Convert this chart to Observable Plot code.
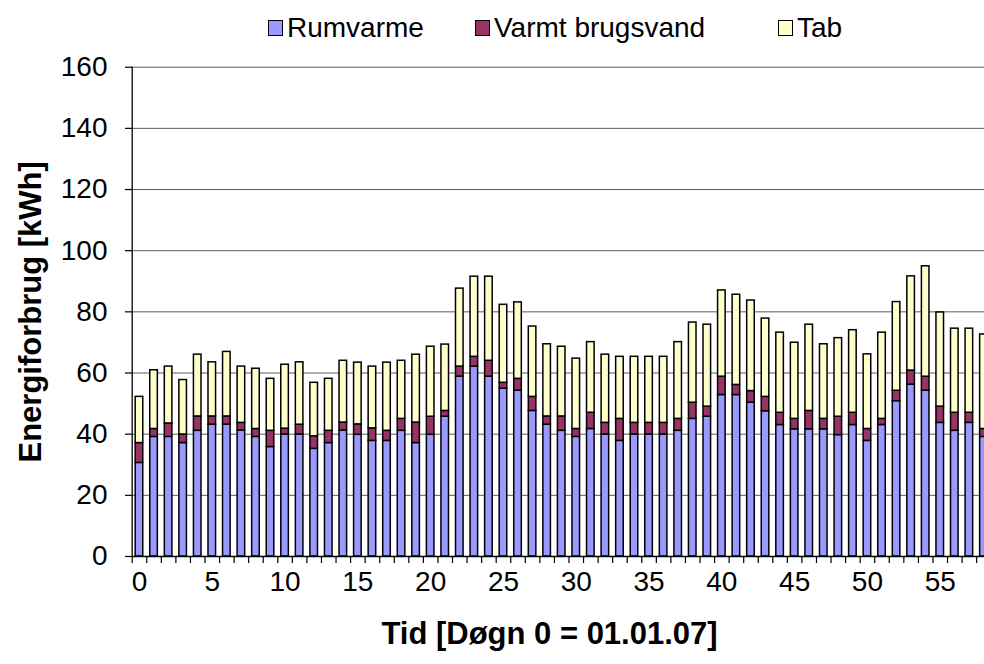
<!DOCTYPE html>
<html>
<head>
<meta charset="utf-8">
<script src="https://cdn.jsdelivr.net/npm/d3@7"></script>
<script src="https://cdn.jsdelivr.net/npm/@observablehq/plot@0.6"></script>
<style>
  html, body { margin: 0; padding: 0; background: #fff; overflow: hidden; }
  body { width: 984px; height: 664px; font-family: "Liberation Sans", Arial, sans-serif; }
  #legend { position: relative; height: 48px; width: 984px; font-size: 28px; color: #000; }
  .item { position: absolute; top: 4px; height: 48px; display: flex; align-items: center; white-space: nowrap; }
  .sw { width: 15px; height: 16px; border: 1.4px solid #000; margin-right: 4px; box-sizing: border-box; }
  #chart svg { display: block; }
</style>
</head>
<body>
<div id="legend"></div>
<div id="chart"></div>
<script>
// ---- data ----
const series = ["Rumvarme", "Varmt brugsvand", "Tab"];
const colors = ["#9999FF", "#993366", "#FFFFCC"];
const days = Array.from({length: 59}, (_, i) => i);
const rumvarme = [30.6, 39.1, 39.1, 37.1, 41.1, 43.1, 43.1, 41.2, 39.1, 35.8, 39.9, 39.9, 35.2, 37.1,
  41.2, 39.8, 37.8, 37.8, 41.1, 37.1, 39.8, 45.7, 58.8, 62.1, 58.8, 54.9, 54.2, 47.6,
  43.1, 41.1, 39.1, 41.7, 39.9, 37.8, 39.9, 39.9, 39.9, 41.1, 45.0, 45.7, 52.8, 52.8, 50.3,
  47.5, 43.0, 41.6, 41.6, 41.6, 39.7, 43.0, 37.8, 43.0, 50.8, 56.2, 54.2, 43.7, 41.1, 43.7, 39.1];
const varmtBrugsvand = [6.5, 2.6, 4.4, 2.8, 4.7, 2.7, 2.7, 2.5, 2.6, 5.3, 1.9, 3.2, 4.1, 4.0,
  2.6, 3.4, 4.1, 3.3, 3.9, 6.7, 5.9, 1.9, 3.3, 3.2, 5.2, 1.9, 3.9, 4.6,
  2.7, 4.7, 2.6, 5.3, 3.8, 7.2, 3.8, 3.8, 3.8, 3.9, 5.3, 3.3, 6.0, 3.3, 3.8,
  4.7, 4.0, 3.4, 6.0, 3.4, 6.0, 4.0, 3.9, 2.0, 3.4, 4.6, 4.6, 5.3, 5.9, 3.3, 2.6];
const tab = [15.1, 19.2, 18.6, 17.8, 20.2, 17.7, 21.1, 18.4, 19.7, 17.0, 20.9, 20.4, 17.5, 17.0,
  20.2, 20.2, 20.2, 22.3, 19.0, 22.2, 22.9, 21.7, 25.5, 26.2, 27.5, 25.5, 25.0, 23.0,
  23.6, 22.8, 23.0, 23.1, 22.3, 20.3, 21.6, 21.6, 21.6, 25.1, 26.2, 26.8, 28.2, 29.5, 29.6,
  25.6, 26.2, 24.9, 28.2, 24.4, 25.7, 27.0, 24.4, 28.2, 29.0, 30.8, 36.1, 30.8, 27.5, 27.5, 30.9];
const yTicks = [0, 20, 40, 60, 80, 100, 120, 140, 160];
const xTickLabels = [0, 5, 10, 15, 20, 25, 30, 35, 40, 45, 50, 55];
const yTitle = "Energiforbrug [kWh]";
const xTitle = "Tid [Døgn 0 = 01.01.07]";

// ---- build stacked rows ----
const values = [rumvarme, varmtBrugsvand, tab];
const rows = [];
days.forEach((day, i) => {
  let acc = 0;
  series.forEach((s, k) => {
    const v = values[k][i];
    rows.push({day, series: s, y1: acc, y2: acc + v});
    acc += v;
  });
});
const boundaries = days.map(d => d - 0.5).concat([days[days.length - 1] + 0.5]);

// ---- legend ----
const legend = document.getElementById("legend");
const legendX = [268, 475, 778];
series.forEach((s, k) => {
  const it = document.createElement("div");
  it.className = "item";
  it.style.left = legendX[k] + "px";
  const sw = document.createElement("span");
  sw.className = "sw";
  sw.style.background = colors[k];
  const tx = document.createElement("span");
  tx.textContent = s;
  it.appendChild(sw); it.appendChild(tx);
  legend.appendChild(it);
});

// ---- chart ----
const font = "'Liberation Sans', Arial, sans-serif";
const chart = Plot.plot({
  width: 984,
  height: 616,
  marginTop: 18.7,
  marginBottom: 108,
  marginLeft: 132,
  marginRight: 0,
  style: {fontFamily: font, background: "#fff", color: "#000", overflow: "hidden"},
  x: {type: "linear", domain: [-0.5, 58.5], range: [131.7, 990.7], axis: null},
  y: {domain: [0, 160], axis: null},
  color: {domain: series, range: colors},
  marks: [
    Plot.gridY(yTicks.filter(v => v > 0), {stroke: "#5a5a5a", strokeOpacity: 1, strokeWidth: 1}),
    Plot.rectY(rows, {
      x1: d => d.day - 0.26, x2: d => d.day + 0.26,
      y1: "y1", y2: "y2", fill: "series",
      stroke: "#000", strokeWidth: 1.5
    }),
    Plot.ruleY([0], {stroke: "#000", strokeWidth: 1.3}),
    Plot.ruleX([-0.5], {stroke: "#000", strokeWidth: 1.3}),
    Plot.axisY(yTicks, {tickSize: 7, tickPadding: 18, fontSize: 28, label: null, strokeWidth: 1.2}),
    Plot.axisX(boundaries, {tickSize: 7, tickFormat: () => "", label: null, strokeWidth: 1.2}),
    Plot.axisX(xTickLabels, {tickSize: 0, tickPadding: 15, fontSize: 28, label: null}),
    Plot.text([yTitle], {frameAnchor: "left", textAnchor: "middle", dx: -101, rotate: -90, fontSize: 31, fontWeight: "bold", text: d => d}),
    Plot.text([xTitle], {frameAnchor: "bottom", textAnchor: "middle", dx: -9, dy: 87, fontSize: 31, fontWeight: "bold", text: d => d})
  ]
});
document.getElementById("chart").appendChild(chart);
</script>
</body>
</html>
